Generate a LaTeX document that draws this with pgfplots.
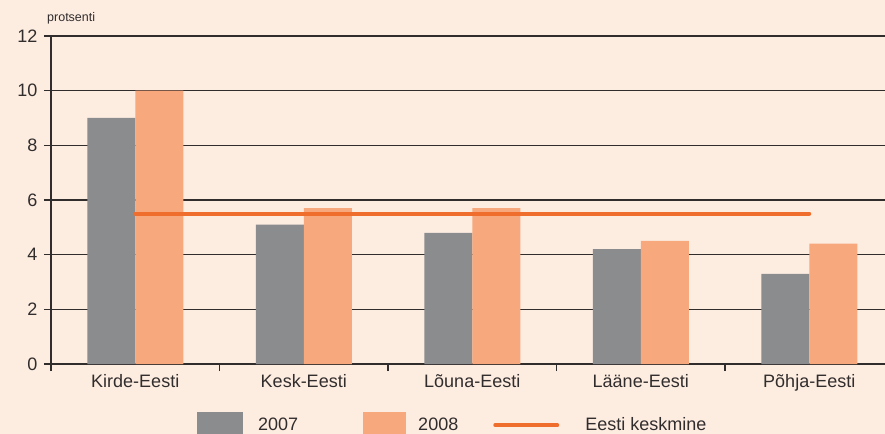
\documentclass[border=0pt]{standalone}
\usepackage{fontspec}
\setmainfont{Liberation Sans}
\usepackage{pgfplots}
\pgfplotsset{compat=1.18}
\definecolor{bgc}{RGB}{253,237,225}
\definecolor{gbar}{RGB}{139,140,142}
\definecolor{obar}{RGB}{247,168,124}
\definecolor{oline}{RGB}{240,110,45}
\definecolor{axcol}{RGB}{50,45,45}
\begin{document}
\begin{tikzpicture}
\path[use as bounding box] (0,0) rectangle (885bp,434bp);
\clip (0,0) rectangle (885bp,434bp);
\fill[bgc] (0,0) rectangle (885bp,434bp);
\begin{axis}[
  at={(51bp,70bp)}, anchor=south west,
  scale only axis, width=842.5bp, height=328bp,
  xmin=-0.5, xmax=4.5, ymin=0, ymax=12,
  axis x line*=bottom, axis y line*=left,
  axis line style={axcol, line width=2bp},
  ytick={0,2,...,12},
  ymajorgrids,
  grid style={axcol, line width=1.3bp},
  tick align=outside,
  major tick length=7bp,
  xtick style={draw=axcol, line width=1.5bp},
  ytick style={draw=axcol, line width=1.5bp},
  xtick={-0.5,0.5,1.5,2.5,3.5,4.5},
  x tick label as interval,
  xticklabels={Kirde-Eesti,Kesk-Eesti,Lõuna-Eesti,Lääne-Eesti,Põhja-Eesti},
  ticklabel style={font=\fontsize{18bp}{20bp}\selectfont, text=axcol},
  yticklabel style={xshift=-3bp},
  /pgf/number format/assume math mode=true,
  clip=false,
  legend columns=3,
  legend style={at={(axis description cs:0.1733,-0.1463)}, anchor=north west,
    draw=none, fill=none, inner sep=0pt,
    font=\fontsize{18bp}{20bp}\selectfont, text=axcol,
    nodes={inner sep=0pt},
    /tikz/every even column/.append style={column sep=35bp}},
]
\addplot[ybar, fill=gbar, draw=none, bar width=48bp, bar shift=-24bp,
  legend image code/.code={\fill[gbar] (0bp,-13bp) rectangle (46bp,13bp); \path (61bp,0bp);}]
  coordinates {(0,9.0) (1,5.1) (2,4.8) (3,4.2) (4,3.3)};
\addlegendentry{2007}
\addplot[ybar, fill=obar, draw=none, bar width=48bp, bar shift=24bp,
  legend image code/.code={\path (-30bp,0bp); \fill[obar] (0bp,-13bp) rectangle (43bp,13bp); \path (55bp,0bp);}]
  coordinates {(0,10.0) (1,5.7) (2,5.7) (3,4.5) (4,4.4)};
\addlegendentry{2008}
\addplot[oline, line width=4bp, line cap=round,
  legend image code/.code={\draw[oline, line width=4bp, line cap=round] (2bp,0bp) -- (64bp,0bp); \path (90bp,0bp);}]
  coordinates {(0,5.5) (4,5.5)};
\addlegendentry{Eesti keskmine}
\pgfplotsinvokeforeach{0.5,1.5,2.5,3.5}{
  \draw[axcol, line width=1.5bp] (axis cs:#1,0) -- ([yshift=-7bp]axis cs:#1,0);
}
\end{axis}
\node[anchor=base west, font=\fontsize{12.5bp}{14bp}\selectfont, text=axcol, inner sep=0pt] at (47bp,412.5bp) {protsenti};
\end{tikzpicture}
\end{document}
